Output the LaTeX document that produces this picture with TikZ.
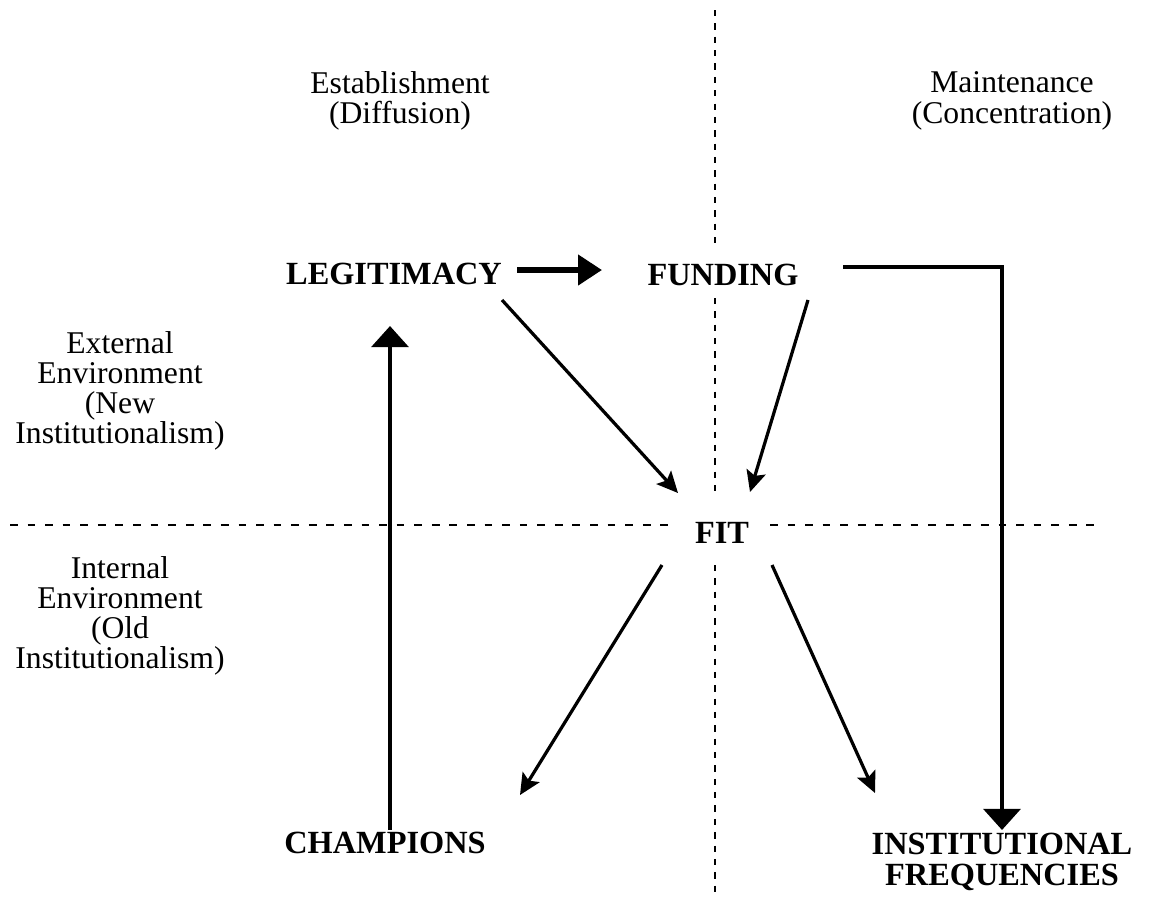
\documentclass[tikz,border=0pt]{standalone}
\usepackage{fontspec}
\setmainfont{Liberation Serif}
\usetikzlibrary{arrows.meta, positioning}

\begin{document}
\begin{tikzpicture}[x=0.025cm, y=-0.025cm,
    sidetext/.style={align=center, inner sep=0pt, font=\fontsize{22.5}{21.5}\selectfont},
    factor/.style={align=center, inner sep=0pt, font=\fontsize{23}{21.5}\selectfont\bfseries},
    hdivider/.style={line width=2pt, dash pattern=on 5.5pt off 7pt},
    vdivider/.style={line width=2pt, dash pattern=on 4.5pt off 5pt},
    thinarrow/.style={-{Stealth[length=15pt,width=14pt,inset=3pt]}, line width=2.3pt},
    boldarrow/.style={-{Triangle[length=17pt,width=21pt]}, line width=4pt},
    uparrow/.style={-{Triangle[length=15pt,width=26pt]}, line width=3.5pt}
]
\useasboundingbox (0,0) rectangle (1157,903);

% quadrant dividers
\draw[vdivider] (715,10) -- (715,247);
\draw[vdivider] (715,298) -- (715,495);
\draw[vdivider] (715,565) -- (715,892);
\draw[hdivider] (10,525) -- (670,525);
\draw[hdivider] (770,525) -- (1100,525);

% headings
\node[sidetext] (estab) at (400,101) {Establishment\\(Diffusion)};
\node[sidetext] (maint) at (1012,101) {Maintenance\\(Concentration)};
\node[sidetext] (external) at (120,391) {External\\Environment\\(New\\Institutionalism)};
\node[sidetext] (internal) at (120,616) {Internal\\Environment\\(Old\\Institutionalism)};

% factors
\node[factor] (legit) at (394,274) {LEGITIMACY};
\node[factor] (fund) at (723,275) {FUNDING};
\node[factor] (fit) at (722,533) {FIT};
\node[factor] (champ) at (385,843) {CHAMPIONS};
\node[factor] (inst) at (1002,862) {INSTITUTIONAL\\FREQUENCIES};

\draw[boldarrow] ([shift={(123,-4)}]legit.center) -- ([shift={(-121,-5)}]fund.center);
\draw[uparrow] ([shift={(5,-13)}]champ.center) -- ([shift={(-4,52)}]legit.center);
\draw[uparrow] ([shift={(120,-8)}]fund.center) -| ([shift={(0,-32)}]inst.center);

\draw[thinarrow] ([shift={(108,26)}]legit.center) -- ([shift={(-44,-40)}]fit.center);
\draw[thinarrow] ([shift={(85,25)}]fund.center) -- ([shift={(28,-41)}]fit.center);
\draw[thinarrow] ([shift={(-60,32)}]fit.center) -- ([shift={(135,-48)}]champ.center);
\draw[thinarrow] ([shift={(50,32)}]fit.center) -- ([shift={(-127,-69)}]inst.center);
\end{tikzpicture}
\end{document}
